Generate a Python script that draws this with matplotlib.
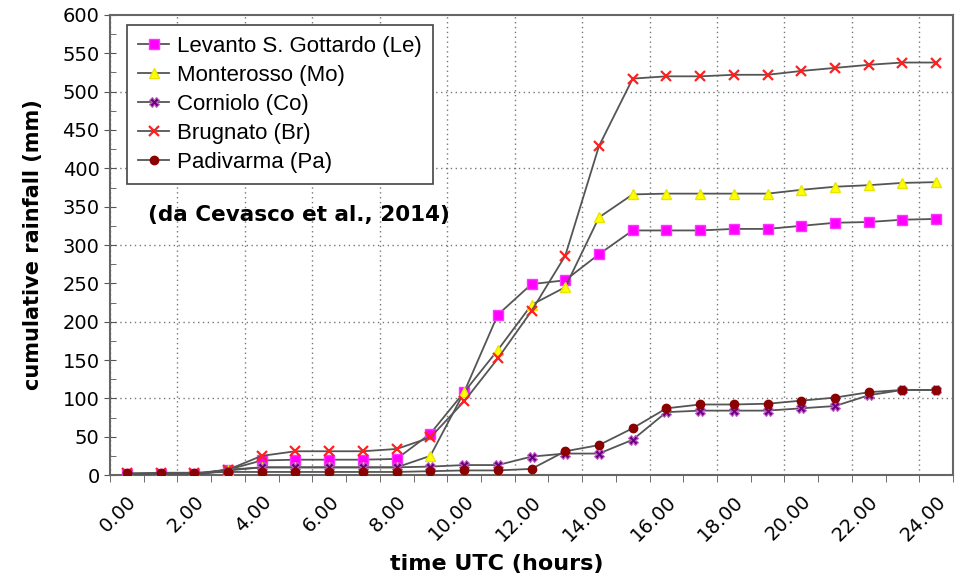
import numpy as np
import matplotlib.pyplot as plt
from matplotlib.ticker import MultipleLocator

# hourly categories (UTC)
hours = list(range(25))

levanto = [1, 1, 1, 7, 19, 20, 20, 20, 21, 54, 108, 209, 249, 254, 288, 319,
           319, 319, 321, 321, 325, 329, 330, 333, 334]
monterosso = [0, 0, 0, 6, 10, 10, 10, 10, 10, 25, 108, 163, 222, 245, 336, 366,
              367, 367, 367, 367, 372, 376, 378, 381, 382]
corniolo = [0, 0, 1, 7, 10, 10, 10, 10, 10, 11, 13, 13, 24, 28, 28, 46,
            82, 84, 84, 84, 87, 90, 104, 111, 111]
brugnato = [2, 2, 2, 7, 25, 31, 31, 31, 34, 49, 96, 152, 214, 286, 429, 517,
            520, 520, 522, 522, 527, 531, 535, 538, 538]
padivarma = [2, 3, 3, 4, 4, 4, 4, 4, 4, 5, 6, 6, 8, 31, 39, 61,
             87, 92, 92, 93, 97, 101, 108, 111, 111]

labels = ["Levanto S. Gottardo (Le)", "Monterosso (Mo)", "Corniolo (Co)",
          "Brugnato (Br)", "Padivarma (Pa)"]

fig = plt.figure(figsize=(9.61, 5.81), dpi=100)
ax = fig.add_axes([0.1145, 0.1824, 0.8772, 0.7918])

x = np.arange(len(hours))
line_c = "#555555"
ax.plot(x, levanto, color=line_c, lw=1.3, marker="s", ms=6.5, mfc="#ff00ff", mec="#ff33ff", label=labels[0], zorder=3)
ax.plot(x, monterosso, color=line_c, lw=1.3, marker="^", ms=6.5, mfc="#ffff00", mec="#e6e600", label=labels[1], zorder=3)
ax.plot(x, corniolo, color=line_c, lw=1.3, marker="X", ms=6.5, mfc="#6a0080", mec="#c060c0", mew=0.8, label=labels[2], zorder=3)
ax.plot(x, brugnato, color=line_c, lw=1.3, marker="x", ms=6.5, mec="#ff2020", mew=1.6, label=labels[3], zorder=3)
ax.plot(x, padivarma, color=line_c, lw=1.3, marker="o", ms=6, mfc="#8b0000", mec="#8b0000", label=labels[4], zorder=3)

ax.set_xlim(-0.5, len(hours) - 0.5)
ax.set_ylim(0, 600)

# x axis: labels at category centres, ticks at category boundaries
ax.set_xticks(x[::2])
ax.set_xticklabels([f"{h}.00" for h in hours[::2]], rotation=45, ha="right",
                   rotation_mode="anchor")
ax.set_xticks(np.arange(-0.5, len(hours)), minor=True)
ax.tick_params(axis="x", which="major", length=0, pad=12, labelsize=14)
ax.tick_params(axis="x", which="minor", length=5, direction="out", color="#555555")

ax.yaxis.set_major_locator(MultipleLocator(50))
ax.yaxis.set_minor_locator(MultipleLocator(25))
ax.tick_params(axis="y", which="major", length=8, direction="inout", labelsize=14, color="#555555")
ax.tick_params(axis="y", which="minor", length=4, direction="in", color="#555555")

# dotted grid
for b in np.arange(-0.5, len(hours), 2):
    ax.axvline(b, color="#777777", ls=(0, (1, 2.5)), lw=1, zorder=1)
for v in range(100, 600, 100):
    ax.axhline(v, color="#777777", ls=(0, (1, 2.5)), lw=1, zorder=1)

for s in ax.spines.values():
    s.set_color("#666666")
    s.set_linewidth(1.5)

ax.set_ylabel("cumulative rainfall (mm)", fontsize=15, fontweight="bold", labelpad=14)
ax.set_xlabel("time UTC (hours)", fontsize=16, fontweight="bold")
ax.xaxis.set_label_coords(0.459, -0.172)

leg = ax.legend(loc="upper left", bbox_to_anchor=(0.02, 0.978), borderaxespad=0,
                prop={"family": "Liberation Sans", "size": 16}, fancybox=False,
                framealpha=1, edgecolor="#444444", labelspacing=0.36,
                handlelength=1.4, handletextpad=0.35, borderpad=0.5)
leg.get_frame().set_linewidth(1.2)

ax.text(0.045, 0.565, "(da Cevasco et al., 2014)", transform=ax.transAxes,
        fontsize=15.5, fontweight="bold", va="center", ha="left")

fig.savefig("out.png", dpi=100)
